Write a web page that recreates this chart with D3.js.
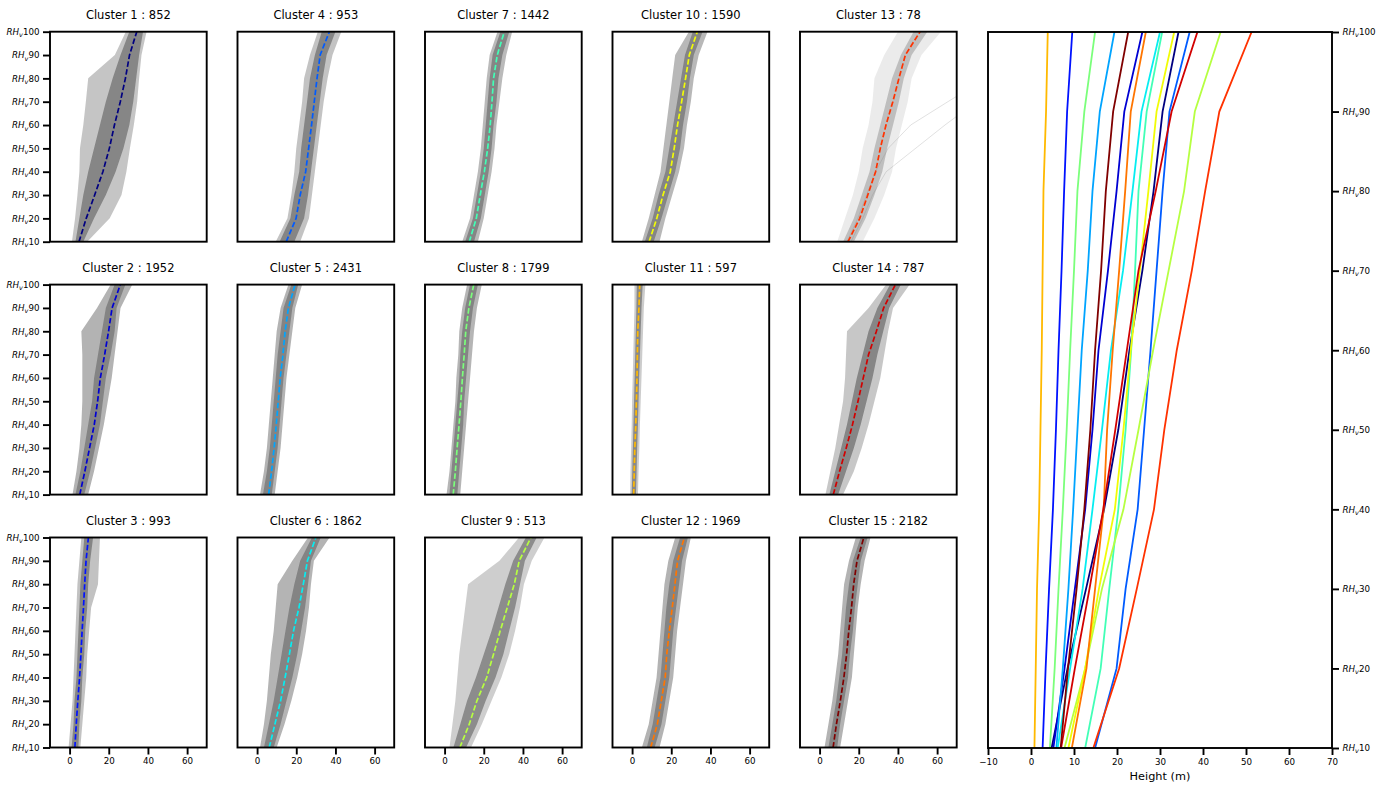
<!DOCTYPE html>
<html><head><meta charset="utf-8">
<script src="https://cdn.jsdelivr.net/npm/d3@7"></script>
<style>body{margin:0;background:#fff} svg{display:block} text{font-family:"DejaVu Sans",sans-serif}</style>
</head><body><svg id="chart" width="1391" height="790"></svg>
<script>
// ---------------- DATA ----------------
const levels = [10, 20, 30, 40, 50, 60, 70, 80, 90, 100];
const rhTickLabels = ["10","20","30","40","50","60","70","80","90","100"];
const clusterIds = [1,2,3,4,5,6,7,8,9,10,11,12,13,14,15];
const clusterCounts = [852,1952,993,953,2431,1862,1442,1799,513,1590,597,1969,78,787,2182];
const clusterColors = ["#000080","#0000d2","#0012ff","#005bff","#00a4ff","#06edf1","#41ffb6","#7bff7b",
  "#b6ff41","#f1fc06","#ffb900","#ff7500","#ff3200","#d20000","#800000"];
const smallXTicks = [0, 20, 40, 60];
const bigXTicks = [-10, 0, 10, 20, 30, 40, 50, 60, 70];

// mean height profile of each cluster at RH10..RH100
const meanHeight = [
  [4.8, 8.5, 12.8, 17.0, 20.3, 22.9, 25.9, 28.5, 30.6, 34.3],
  [5.2, 7.8, 10.2, 12.6, 14.3, 15.7, 17.9, 19.9, 21.7, 25.9],
  [2.7, 3.4, 4.2, 5.1, 5.8, 6.4, 7.1, 7.7, 8.4, 9.6],
  [14.9, 19.9, 22.0, 24.8, 26.3, 27.8, 29.2, 30.6, 32.2, 36.9],
  [5.9, 7.4, 8.7, 9.8, 10.8, 11.8, 13.2, 14.3, 16.0, 19.4],
  [6.2, 9.1, 12.0, 14.3, 16.5, 18.6, 21.4, 23.6, 25.7, 30.0],
  [12.6, 16.2, 18.2, 20.3, 22.0, 23.3, 24.2, 25.0, 26.9, 30.5],
  [4.4, 5.5, 6.4, 7.4, 8.3, 9.1, 10.0, 10.8, 12.4, 14.9],
  [7.8, 12.6, 16.5, 21.5, 25.0, 28.4, 32.0, 35.6, 38.1, 44.1],
  [8.7, 12.6, 15.8, 19.5, 21.5, 23.2, 25.3, 27.3, 29.2, 33.3],
  [0.8, 1.1, 1.4, 1.9, 2.2, 2.5, 2.7, 2.9, 3.5, 3.9],
  [9.5, 12.9, 14.9, 16.9, 17.7, 19.0, 20.5, 21.9, 23.2, 26.7],
  [14.5, 20.5, 24.6, 28.6, 31.0, 33.9, 37.4, 40.5, 43.8, 51.3],
  [7.0, 10.2, 13.6, 16.8, 19.6, 22.3, 25.0, 29.0, 32.7, 38.7],
  [6.9, 8.6, 10.6, 12.4, 13.8, 14.9, 16.3, 17.4, 19.1, 22.6]
];
// spread of the member profiles: outer envelope (sparse) and dense core
const outerLow = [
  [1.2, 2.8, 4.0, 5.0, 5.3, 7.0, 8.3, 9.5, 23.1, 28.7],
  [1.5, 3.5, 5.0, 6.0, 6.5, 6.5, 6.5, 6.0, 14.0, 21.0],
  [-0.5, 0.5, 1.5, 2.0, 2.5, 3.0, 3.5, 4.0, 5.0, 6.0],
  [9.5, 15.5, 17.5, 19.0, 20.0, 21.5, 23.0, 24.0, 27.0, 31.0],
  [1.5, 3.5, 5.0, 6.0, 7.0, 8.0, 9.0, 10.0, 12.0, 16.0],
  [1.5, 3.5, 5.0, 6.0, 7.0, 8.5, 9.5, 10.5, 18.0, 26.0],
  [9.0, 13.0, 15.0, 17.0, 18.5, 19.5, 20.5, 21.5, 23.0, 27.0],
  [1.0, 2.5, 3.5, 4.5, 5.5, 6.0, 7.0, 7.5, 9.0, 11.5],
  [2.5, 4.0, 5.5, 6.5, 7.5, 9.0, 10.5, 12.0, 28.0, 38.0],
  [5.0, 8.5, 11.5, 14.5, 16.0, 17.5, 19.0, 20.5, 22.0, 29.0],
  [-1.0, -0.8, -0.5, -0.2, 0.0, 0.3, 0.6, 0.9, 1.2, 1.2],
  [5.0, 8.5, 10.5, 12.5, 13.5, 14.5, 15.5, 16.5, 18.5, 22.0],
  [9.0, 13.0, 17.0, 20.0, 22.0, 25.0, 27.0, 28.0, 33.0, 40.0],
  [3.0, 5.5, 8.0, 10.0, 12.0, 13.0, 13.5, 14.0, 25.0, 34.0],
  [2.5, 4.5, 6.5, 8.0, 9.5, 10.5, 11.5, 12.5, 15.0, 18.5]
];
const coreLow = [
  [3.0, 5.0, 7.0, 9.5, 12.5, 15.5, 18.5, 22.0, 26.0, 30.5],
  [3.0, 5.5, 7.5, 9.5, 11.5, 12.5, 14.5, 16.5, 18.5, 23.0],
  [1.0, 2.0, 2.5, 3.5, 4.0, 4.5, 5.0, 5.5, 6.5, 7.5],
  [11.5, 17.0, 19.0, 21.5, 22.5, 24.0, 25.5, 27.0, 29.5, 33.0],
  [3.0, 5.0, 6.5, 7.5, 8.5, 9.5, 10.5, 12.0, 13.5, 17.5],
  [3.5, 6.0, 8.5, 10.5, 12.5, 14.5, 16.5, 19.0, 22.0, 28.0],
  [10.5, 14.5, 16.5, 18.5, 20.0, 21.0, 22.0, 23.0, 24.5, 28.5],
  [2.5, 3.5, 4.5, 5.5, 6.5, 7.5, 8.0, 9.0, 10.5, 13.0],
  [4.5, 8.0, 11.5, 16.0, 20.0, 24.0, 27.5, 31.0, 35.0, 41.5],
  [6.5, 10.5, 13.5, 17.0, 19.0, 21.0, 23.0, 25.0, 27.0, 31.0],
  [-0.2, 0.1, 0.4, 0.7, 1.0, 1.3, 1.6, 1.9, 2.2, 2.4],
  [7.5, 10.5, 12.5, 14.5, 15.5, 16.5, 17.5, 19.0, 21.0, 24.5],
  [12.0, 17.5, 21.5, 25.5, 28.0, 31.0, 34.0, 37.0, 41.5, 48.0],
  [5.0, 8.0, 11.0, 14.0, 16.5, 19.0, 22.0, 25.0, 29.5, 36.0],
  [4.5, 6.5, 8.5, 10.0, 11.5, 12.5, 13.5, 15.0, 17.0, 21.0]
];
const coreHigh = [
  [7.0, 12.5, 18.5, 23.5, 27.5, 30.5, 32.5, 34.0, 35.5, 37.5],
  [7.5, 10.5, 13.0, 15.5, 17.0, 18.5, 21.0, 23.0, 24.0, 28.5],
  [4.5, 5.0, 6.0, 6.5, 7.5, 8.0, 9.0, 9.5, 10.5, 12.0],
  [19.0, 24.0, 26.0, 27.5, 29.0, 30.5, 32.0, 33.5, 35.5, 40.0],
  [7.5, 9.0, 10.5, 11.5, 12.5, 13.5, 15.0, 16.5, 18.0, 21.0],
  [8.5, 12.0, 15.0, 18.0, 20.5, 22.5, 24.5, 26.0, 27.5, 32.5],
  [15.0, 18.5, 20.5, 22.5, 24.0, 25.0, 26.5, 27.5, 29.5, 33.0],
  [6.5, 7.5, 8.5, 9.5, 10.0, 11.0, 12.0, 13.0, 14.5, 17.0],
  [11.0, 16.5, 21.0, 26.0, 30.0, 33.0, 36.0, 38.5, 41.0, 47.0],
  [11.0, 15.0, 18.5, 22.0, 24.5, 26.0, 28.0, 29.5, 31.5, 36.0],
  [2.0, 2.3, 2.6, 3.0, 3.3, 3.6, 4.0, 4.4, 4.8, 5.4],
  [11.5, 15.0, 17.0, 19.0, 20.0, 21.0, 22.5, 24.0, 25.5, 28.5],
  [17.5, 23.5, 28.0, 32.0, 34.5, 37.5, 40.5, 43.0, 47.0, 55.0],
  [9.5, 13.5, 17.5, 21.0, 24.0, 27.0, 29.5, 32.5, 35.5, 41.5],
  [9.0, 10.5, 12.5, 14.5, 15.5, 17.0, 18.0, 19.5, 21.0, 24.5]
];
const outerHigh = [
  [9.0, 20.5, 26.5, 29.0, 30.8, 32.8, 34.5, 35.5, 36.7, 39.3],
  [9.5, 12.5, 15.0, 17.5, 19.5, 21.5, 23.0, 24.5, 26.0, 32.0],
  [5.5, 6.5, 7.5, 8.5, 9.0, 10.0, 11.0, 14.5, 15.0, 15.5],
  [22.0, 26.5, 28.0, 29.5, 31.0, 32.5, 34.0, 36.0, 38.5, 43.0],
  [9.0, 10.5, 12.0, 13.0, 14.0, 15.0, 16.5, 18.0, 19.5, 23.0],
  [10.0, 14.0, 17.5, 20.5, 23.0, 25.0, 26.5, 27.5, 29.0, 37.0],
  [17.0, 20.0, 22.0, 24.0, 25.5, 26.5, 28.0, 29.5, 31.5, 34.5],
  [8.0, 9.0, 10.0, 11.0, 12.0, 13.0, 14.0, 15.0, 16.5, 19.0],
  [13.5, 19.0, 24.0, 29.0, 33.0, 36.0, 38.5, 40.5, 44.5, 51.0],
  [14.0, 17.0, 20.5, 24.0, 26.5, 28.0, 30.0, 31.5, 34.0, 38.5],
  [3.0, 3.3, 3.7, 4.0, 4.4, 4.8, 5.2, 5.6, 6.0, 6.8],
  [14.0, 17.0, 19.0, 21.0, 22.0, 23.0, 24.5, 26.0, 27.5, 30.0],
  [22.0, 28.0, 33.0, 37.0, 39.0, 42.0, 45.0, 47.0, 52.0, 62.0],
  [12.0, 17.5, 21.5, 25.0, 28.0, 31.0, 33.0, 35.0, 37.5, 46.0],
  [10.5, 12.5, 14.5, 16.5, 17.5, 18.5, 19.5, 21.0, 23.0, 26.0]
];
// two stray member profiles of cluster 13 that leave the frame on the right
const cluster13Strays = [
  [14.0, 19.5, 24.0, 28.5, 35.0, 46.5, 65.5, 85.0, 95.0, 100.0],
  [16.0, 22.0, 27.0, 34.0, 49.0, 64.0, 80.0, 90.0, 100.0, 110.0]
];

// ---------------- LAYOUT ----------------
const svg = d3.select("#chart");
const SP = {x0: 50, dx: 187.5, w: 156.7, y0: 31.7, dy: 252.9, h: 210};
const BIG = {x0: 988, x1: 1332, y0: 32, y1: 748};
const FONT_TICK = 8.7, FONT_TITLE = 11.5;
const idx = d3.range(levels.length);

const coreAlpha = d3.scaleLog().domain([78, 700]).range([0.42, 0.92]).clamp(true);
const outerAlpha = d3.scaleLog().domain([78, 700, 2000]).range([0.16, 0.42, 0.6]).clamp(true);

function rhLabel(sel) {
  sel.each(function(d) {
    const t = d3.select(this);
    const lab = rhTickLabels[levels.indexOf(d)];
    t.text(null);
    t.append("tspan").attr("font-style", "italic").text("RH");
    t.append("tspan").attr("font-style", "italic").attr("font-size", (FONT_TICK * 0.75) + "px").attr("dy", "2.2").text("v");
    t.append("tspan").attr("dy", "-2.2").text(lab);
  });
}
function styleAxis(g) {
  g.select(".domain").remove();
  g.selectAll(".tick line").attr("stroke", "#000").attr("stroke-width", 1.9);
  g.selectAll(".tick text").attr("fill", "#000").attr("font-size", FONT_TICK + "px")
    .attr("font-family", "DejaVu Sans, sans-serif");
  g.attr("font-family", null).attr("font-size", null);
}

clusterIds.forEach((cid, k) => {
  const col = Math.floor(k / 3), row = k % 3;
  const px = SP.x0 + col * SP.dx, py = SP.y0 + row * SP.dy;
  const g = svg.append("g").attr("transform", `translate(${px},${py})`);
  const xs = d3.scaleLinear().domain([-10, 70]).range([0, SP.w]);
  const ys = d3.scaleLinear().domain([10, 100]).range([SP.h, 0]);

  const clipId = "clip" + cid;
  g.append("clipPath").attr("id", clipId).append("rect").attr("width", SP.w).attr("height", SP.h);
  const body = g.append("g").attr("clip-path", `url(#${clipId})`);

  const area = (lo, hi) => d3.area().y(i => ys(levels[i])).x0(i => xs(lo[i])).x1(i => xs(hi[i]));
  body.append("path").datum(idx).attr("d", area(outerLow[k], outerHigh[k]))
    .attr("fill", "#808080").attr("fill-opacity", outerAlpha(clusterCounts[k]));
  body.append("path").datum(idx).attr("d", area(coreLow[k], coreHigh[k]))
    .attr("fill", "#808080").attr("fill-opacity", coreAlpha(clusterCounts[k]));

  if (cid === 13) {
    cluster13Strays.forEach(s => {
      body.append("path").datum(idx)
        .attr("d", d3.line().y(i => ys(levels[i])).x(i => xs(s[i])))
        .attr("fill", "none").attr("stroke", "#808080").attr("stroke-opacity", 0.3).attr("stroke-width", 0.8);
    });
  }

  body.append("path").datum(idx)
    .attr("d", d3.line().y(i => ys(levels[i])).x(i => xs(meanHeight[k][i])))
    .attr("fill", "none").attr("stroke", clusterColors[k]).attr("stroke-width", 1.7)
    .attr("stroke-dasharray", "5.5,2.4");

  g.append("rect").attr("width", SP.w).attr("height", SP.h)
    .attr("fill", "none").attr("stroke", "#000").attr("stroke-width", 1.9);

  g.append("text").attr("x", SP.w / 2).attr("y", -12.7).attr("text-anchor", "middle")
    .attr("font-size", FONT_TITLE + "px").attr("fill", "#000")
    .text(`Cluster ${cid} : ${clusterCounts[k]}`);

  if (col === 0) {
    const ax = g.append("g").call(d3.axisLeft(ys).tickValues(levels).tickSize(7).tickPadding(3.5));
    styleAxis(ax);
    ax.selectAll(".tick text").call(rhLabel);
  }
  if (row === 2) {
    const ax = g.append("g").attr("transform", `translate(0,${SP.h})`)
      .call(d3.axisBottom(xs).tickValues(smallXTicks).tickSize(7).tickPadding(3.5));
    styleAxis(ax);
  }
});

// ---------------- BIG PANEL ----------------
const bx = d3.scaleLinear().domain([-10, 70]).range([BIG.x0, BIG.x1]);
const by = d3.scaleLinear().domain([10, 100]).range([BIG.y1, BIG.y0]);
svg.append("clipPath").attr("id", "clipBig").append("rect")
  .attr("x", BIG.x0).attr("y", BIG.y0).attr("width", BIG.x1 - BIG.x0).attr("height", BIG.y1 - BIG.y0);
const bigBody = svg.append("g").attr("clip-path", "url(#clipBig)");
clusterIds.forEach((cid, k) => {
  bigBody.append("path").datum(idx)
    .attr("d", d3.line().y(i => by(levels[i])).x(i => bx(meanHeight[k][i])))
    .attr("fill", "none").attr("stroke", clusterColors[k]).attr("stroke-width", 1.8);
});
svg.append("rect").attr("x", BIG.x0).attr("y", BIG.y0)
  .attr("width", BIG.x1 - BIG.x0).attr("height", BIG.y1 - BIG.y0)
  .attr("fill", "none").attr("stroke", "#000").attr("stroke-width", 1.9);

const bxa = svg.append("g").attr("transform", `translate(0,${BIG.y1})`)
  .call(d3.axisBottom(bx).tickValues(bigXTicks).tickSize(7).tickPadding(3.5)
    .tickFormat(d => d < 0 ? "\u2212" + Math.abs(d) : String(d)));
styleAxis(bxa);
const bya = svg.append("g").attr("transform", `translate(${BIG.x1},0)`)
  .call(d3.axisRight(by).tickValues(levels).tickSize(7).tickPadding(3.5));
styleAxis(bya);
bya.selectAll(".tick text").call(rhLabel);

svg.append("text").attr("x", (BIG.x0 + BIG.x1) / 2).attr("y", 780).attr("text-anchor", "middle")
  .attr("font-size", "11.3px").attr("fill", "#000").text("Height (m)");
</script>
</body></html>
